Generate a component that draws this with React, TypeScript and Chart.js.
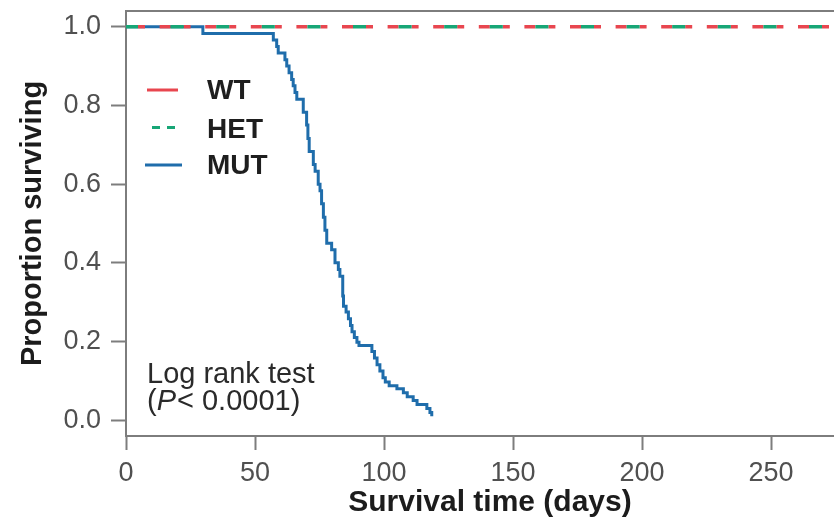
import React, { useEffect, useRef } from "react";
import { Chart, registerables } from "chart.js";

Chart.register(...registerables);

// ---- data ----
const SERIES_LABELS = ["WT", "HET", "MUT"];
const SERIES_COLORS = ["#e8464f", "#17a676", "#1f6dab"];

const WT_DAYS = [0, 290];
const WT_SURV = [1.0, 1.0];
const HET_DAYS = [0, 290];
const HET_SURV = [1.0, 1.0];

const MUT_DAYS = [
  0, 29.8, 57.1, 58.4, 59.0, 61.6, 62.3, 63.2, 64.2, 64.8,
  65.5, 66.2, 68.7, 70.0, 70.5, 71.0, 72.6, 73.3, 74.5, 75.2,
  75.8, 76.5, 77.1, 77.8, 79.7, 81.0, 82.3, 82.9, 84.0, 84.3,
  85.3, 86.2, 87.0, 87.6, 88.5, 89.5, 90.3, 95.3, 96.3, 97.3,
  98.4, 99.6, 100.5, 102.0, 105.0, 107.5, 109.0, 111.3, 112.8, 116.6,
  117.8, 118.5,
];
const MUT_SURV = [
  1.0, 0.983, 0.966, 0.95, 0.933, 0.916, 0.9, 0.883, 0.866, 0.85,
  0.833, 0.816, 0.783, 0.75, 0.716, 0.683, 0.65, 0.633, 0.6, 0.583,
  0.55, 0.516, 0.483, 0.45, 0.433, 0.4, 0.383, 0.366, 0.316, 0.29,
  0.275, 0.258, 0.241, 0.225, 0.21, 0.198, 0.19, 0.175, 0.158, 0.141,
  0.125, 0.108, 0.097, 0.088, 0.08, 0.07, 0.06, 0.05, 0.04, 0.03,
  0.02, 0.01,
];

const X_TICKS = [0, 50, 100, 150, 200, 250];
const Y_TICKS = [0, 0.2, 0.4, 0.6, 0.8, 1.0];
const X_TITLE = "Survival time (days)";
const Y_TITLE = "Proportion surviving";
const TEST_LINE_1 = "Log rank test";
const TEST_P = "P";
const TEST_LINE_2_REST = "< 0.0001)";

const FONT = "'Liberation Sans', Arial, Helvetica, sans-serif";
const AXIS_GRAY = "#7d7d7d";
const TICK_TEXT = "#505050";
const TITLE_TEXT = "#1c1c1c";

const toPts = (xs: number[], ys: number[]) => xs.map((x, i) => ({ x, y: ys[i] }));

const decorPlugin = {
  id: "decor",
  afterDraw(chart: any) {
    const { ctx, chartArea } = chart;
    ctx.save();
    // top frame line
    ctx.strokeStyle = AXIS_GRAY;
    ctx.lineWidth = 2;
    ctx.beginPath();
    ctx.moveTo(chartArea.left - 1, chartArea.top);
    ctx.lineTo(chartArea.right, chartArea.top);
    ctx.stroke();

    // legend
    const rows = [99, 137.5, 174];
    const lineYs = [90, 127.5, 165];
    chart.data.datasets.forEach((ds: any, i: number) => {
      ctx.strokeStyle = ds.borderColor;
      ctx.lineWidth = 3;
      ctx.beginPath();
      if (i === 0) {
        ctx.moveTo(147, lineYs[i]);
        ctx.lineTo(178, lineYs[i]);
      } else if (i === 1) {
        ctx.moveTo(152, lineYs[i]);
        ctx.lineTo(160, lineYs[i]);
        ctx.moveTo(167, lineYs[i]);
        ctx.lineTo(175, lineYs[i]);
      } else {
        ctx.moveTo(145, lineYs[i]);
        ctx.lineTo(182, lineYs[i]);
      }
      ctx.stroke();
      ctx.fillStyle = "#1e1e1e";
      ctx.font = `bold 28px ${FONT}`;
      ctx.textBaseline = "alphabetic";
      ctx.textAlign = "left";
      ctx.fillText(ds.label, 207, rows[i]);
    });

    // log rank test text
    ctx.fillStyle = "#2a2a2a";
    ctx.font = `29px ${FONT}`;
    ctx.fillText(TEST_LINE_1, 147, 383);
    let x = 147;
    ctx.fillText("(", x, 410);
    x += ctx.measureText("(").width;
    ctx.font = `italic 29px ${FONT}`;
    ctx.fillText(TEST_P, x, 410);
    x += ctx.measureText(TEST_P).width + 1;
    ctx.font = `29px ${FONT}`;
    ctx.fillText(TEST_LINE_2_REST, x, 410);

    // x-axis title
    ctx.fillStyle = TITLE_TEXT;
    ctx.font = `bold 30px ${FONT}`;
    ctx.textAlign = "center";
    ctx.fillText(X_TITLE, 490, 511);
    ctx.restore();
  },
};

export default function App() {
  const ref = useRef<HTMLCanvasElement | null>(null);

  useEffect(() => {
    if (!ref.current) return;
    const chart = new Chart(ref.current, {
      type: "line",
      data: {
        datasets: [
          {
            label: SERIES_LABELS[0],
            data: toPts(WT_DAYS, WT_SURV),
            borderColor: SERIES_COLORS[0],
            borderWidth: 3.5,
            borderDash: [11, 13, 7, 14.6],
            borderDashOffset: 12,
            pointRadius: 0,
            fill: false,
            order: 1,
          },
          {
            label: SERIES_LABELS[1],
            data: toPts(HET_DAYS, HET_SURV),
            borderColor: SERIES_COLORS[1],
            borderWidth: 3.5,
            borderDash: [13, 32.6],
            borderDashOffset: 1,
            pointRadius: 0,
            fill: false,
            order: 0,
          },
          {
            label: SERIES_LABELS[2],
            data: toPts(MUT_DAYS, MUT_SURV),
            borderColor: SERIES_COLORS[2],
            borderWidth: 3,
            stepped: true,
            pointRadius: 0,
            fill: false,
            order: 2,
          },
        ],
      },
      options: {
        responsive: false,
        animation: false,
        devicePixelRatio: 1,
        layout: { padding: { top: 11, left: 0, right: 0, bottom: 0 } },
        plugins: {
          legend: { display: false },
          tooltip: { enabled: false },
          title: { display: false },
        },
        scales: {
          x: {
            type: "linear",
            min: 0,
            max: 274.4,
            afterBuildTicks: (s: any) => {
              s.ticks = X_TICKS.map((v) => ({ value: v }));
            },
            afterFit: (s: any) => {
              s.height = 84;
              s.paddingLeft = 0;
              s.paddingRight = 0;
            },
            ticks: {
              color: TICK_TEXT,
              font: { family: FONT, size: 27 },
              padding: 7,
              maxRotation: 0,
              autoSkip: false,
              callback: (v: any) => String(v),
            },
            grid: {
              display: true,
              drawOnChartArea: false,
              drawTicks: true,
              tickLength: 14,
              tickColor: AXIS_GRAY,
              tickWidth: 2,
            },
            border: { display: true, color: AXIS_GRAY, width: 2 },
            title: { display: false, text: X_TITLE },
          },
          y: {
            type: "linear",
            min: -0.04,
            max: 1.04,
            afterBuildTicks: (s: any) => {
              s.ticks = Y_TICKS.map((v) => ({ value: v }));
            },
            afterFit: (s: any) => {
              s.width = 126;
              s.paddingTop = 0;
              s.paddingBottom = 0;
            },
            ticks: {
              color: TICK_TEXT,
              font: { family: FONT, size: 27 },
              padding: 10,
              autoSkip: false,
              callback: (v: any) => Number(v).toFixed(1),
            },
            grid: {
              display: true,
              drawOnChartArea: false,
              drawTicks: true,
              tickLength: 15,
              tickColor: AXIS_GRAY,
              tickWidth: 2,
            },
            border: { display: true, color: AXIS_GRAY, width: 2 },
            title: {
              display: true,
              text: Y_TITLE,
              color: TITLE_TEXT,
              font: { family: FONT, size: 29, weight: "bold" },
              padding: { top: 15.6, bottom: 0 },
            },
          },
        },
      },
      plugins: [decorPlugin],
    });
    return () => chart.destroy();
  }, []);

  return (
    <div style={{ position: "absolute", left: 0, top: 0, width: 834, height: 520, background: "#fff" }}>
      <canvas ref={ref} width={834} height={520} style={{ display: "block" }} />
    </div>
  );
}
